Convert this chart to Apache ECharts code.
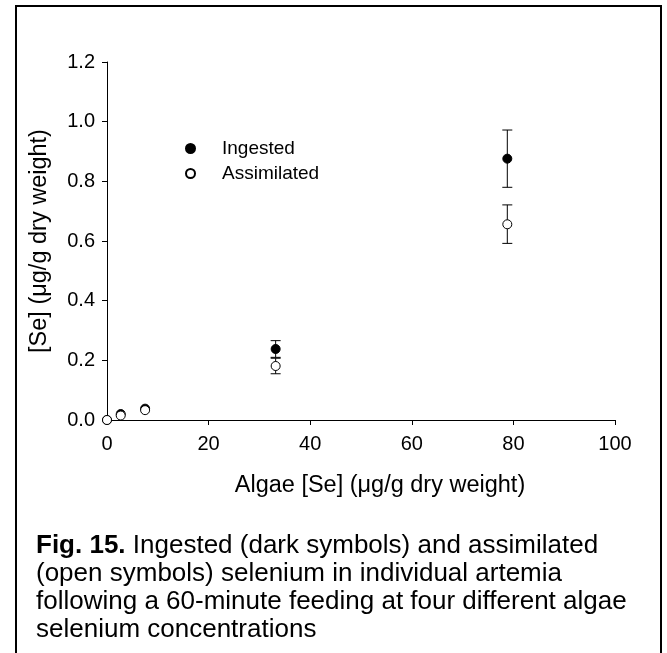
<!DOCTYPE html>
<html>
<head>
<meta charset="utf-8">
<script src="https://cdn.jsdelivr.net/npm/echarts@6/dist/echarts.min.js"></script>
<style>
html,body{margin:0;padding:0;background:#fff;}
#chart{width:667px;height:653px;}
</style>
</head>
<body>
<div id="chart"></div>
<script>
// ---- data ----
const algaeSe      = [0, 2.7, 7.5, 33.2, 78.8];
const ingested     = [0, 0.02, 0.038, 0.238, 0.876];
const ingestedLow  = [null, null, null, 0.21, 0.78];
const ingestedHigh = [null, null, null, 0.266, 0.972];
const assimilated     = [0, 0.015, 0.033, 0.181, 0.656];
const assimilatedLow  = [null, null, null, 0.155, 0.592];
const assimilatedHigh = [null, null, null, 0.207, 0.721];
const xTicks = [0, 20, 40, 60, 80, 100];
const yTicks = [0, 0.2, 0.4, 0.6, 0.8, 1.0, 1.2];
const seriesNames = ['Ingested', 'Assimilated'];
const xTitle = 'Algae [Se] (\u03BCg/g dry weight)';
const yTitle = '[Se] (\u03BCg/g dry weight)';
const captionBold = 'Fig. 15.';
const captionLines = [
  ' Ingested (dark symbols) and assimilated',
  '(open symbols) selenium in individual artemia',
  'following a 60-minute feeding at four different algae',
  'selenium concentrations'
];

const FONT = 'Liberation Sans, Arial, sans-serif';

function pts(xs, ys) { return xs.map((x, i) => [x, ys[i]]); }
function errs(xs, lo, hi) {
  const out = [];
  xs.forEach((x, i) => { if (lo[i] != null && hi[i] != null) out.push([x, lo[i], hi[i]]); });
  return out;
}
function renderErr(params, api) {
  const x = api.value(0);
  const p1 = api.coord([x, api.value(1)]);
  const p2 = api.coord([x, api.value(2)]);
  const w = 5;
  const st = { stroke: '#000', lineWidth: 1 };
  return {
    type: 'group',
    children: [
      { type: 'line', shape: { x1: p1[0], y1: p1[1], x2: p2[0], y2: p2[1] }, style: st },
      { type: 'line', shape: { x1: p1[0] - w, y1: p1[1], x2: p1[0] + w, y2: p1[1] }, style: st },
      { type: 'line', shape: { x1: p2[0] - w, y1: p2[1], x2: p2[0] + w, y2: p2[1] }, style: st }
    ]
  };
}

const chart = echarts.init(document.getElementById('chart'), null, { renderer: 'canvas' });
chart.setOption({
  animation: false,
  backgroundColor: '#fff',
  textStyle: { fontFamily: FONT, color: '#000' },
  grid: { left: 107, right: 52, top: 62, bottom: 233, containLabel: false },
  xAxis: {
    type: 'value', min: xTicks[0], max: xTicks[xTicks.length - 1], interval: 20,
    splitLine: { show: false },
    axisLine: { lineStyle: { color: '#000', width: 1 } },
    axisTick: { inside: false, length: 5, lineStyle: { color: '#000' } },
    axisLabel: { color: '#000', fontSize: 20, fontFamily: FONT, margin: 14 },
    name: xTitle, nameLocation: 'middle', nameGap: 54,
    nameTextStyle: { color: '#000', fontSize: 23.5, fontFamily: FONT, padding: [0, 0, 0, 38] }
  },
  yAxis: {
    type: 'value', min: yTicks[0], max: yTicks[yTicks.length - 1], interval: 0.2,
    splitLine: { show: false },
    axisLine: { show: true, lineStyle: { color: '#000', width: 1 } },
    axisTick: { show: true, inside: false, length: 5, lineStyle: { color: '#000' } },
    axisLabel: { color: '#000', fontSize: 20, fontFamily: FONT, margin: 12, formatter: v => v.toFixed(1) },
    name: yTitle, nameLocation: 'middle', nameGap: 55,
    nameTextStyle: { color: '#000', fontSize: 23.5, fontFamily: FONT }
  },
  legend: {
    data: seriesNames, orient: 'vertical', left: 180, top: 134,
    itemWidth: 53, itemHeight: 9, itemGap: 6, selectedMode: false,
    textStyle: { fontSize: 19, fontFamily: FONT, color: '#000' }
  },
  series: [
    { type: 'custom', name: 'errI', renderItem: renderErr, data: errs(algaeSe, ingestedLow, ingestedHigh), z: 1, silent: true },
    { type: 'custom', name: 'errA', renderItem: renderErr, data: errs(algaeSe, assimilatedLow, assimilatedHigh), z: 1, silent: true },
    { type: 'scatter', name: seriesNames[0], data: pts(algaeSe, ingested), symbol: 'circle', symbolSize: 9,
      itemStyle: { color: '#000', borderColor: '#000', borderWidth: 1, opacity: 1 }, z: 3 },
    { type: 'scatter', name: seriesNames[1], data: pts(algaeSe, assimilated), symbol: 'circle', symbolSize: 9,
      itemStyle: { color: '#fff', borderColor: '#000', borderWidth: 1, opacity: 1 }, z: 4 }
  ],
  graphic: [
    { type: 'rect', shape: { x: 16, y: 6, width: 645, height: 700 }, style: { fill: 'none', stroke: '#000', lineWidth: 2 }, silent: true, z: 10 },
    { type: 'text', left: 36, top: 532, silent: true,
      style: {
        text: '{b|' + captionBold + '}' + captionLines[0] + '\n' + captionLines.slice(1).join('\n'),
        font: '26px ' + FONT, fill: '#000', lineHeight: 28,
        rich: { b: { fontWeight: 'bold', fontSize: 26, fontFamily: FONT, lineHeight: 28 } }
      } }
  ]
});
</script>
</body>
</html>
